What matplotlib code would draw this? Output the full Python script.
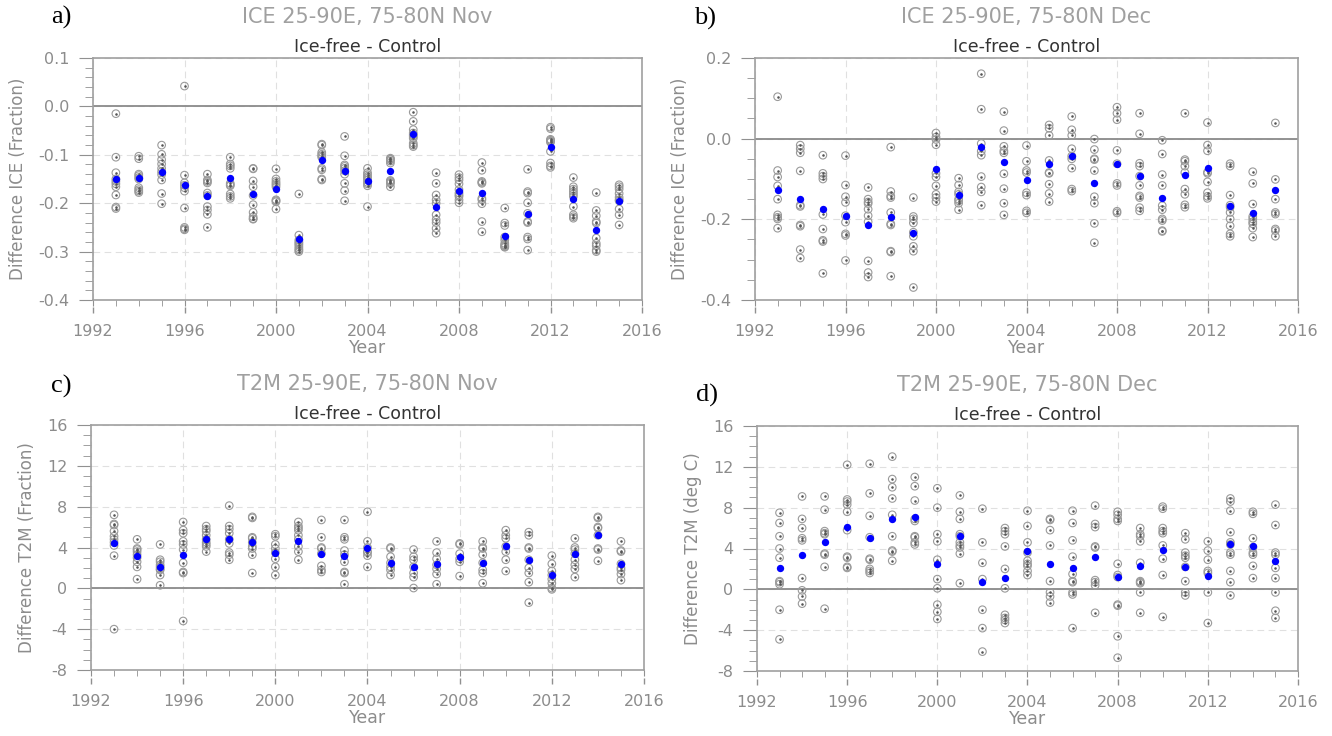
import matplotlib
matplotlib.use("Agg")
import matplotlib.pyplot as plt
import matplotlib.ticker as mticker

years = list(range(1993, 2016))
label_years = [1992, 1996, 2000, 2004, 2008, 2012, 2016]

# --- a) ICE Nov: ensemble members per year, and the ensemble mean
ice_nov = [
    [-0.015, -0.105, -0.137, -0.150, -0.155, -0.160, -0.166, -0.183, -0.208, -0.211],
    [-0.103, -0.108, -0.140, -0.143, -0.147, -0.150, -0.168, -0.172, -0.175, -0.178],
    [-0.080, -0.099, -0.110, -0.119, -0.128, -0.135, -0.141, -0.152, -0.180, -0.201],
    [0.042, -0.142, -0.158, -0.163, -0.168, -0.175, -0.210, -0.250, -0.253, -0.255],
    [-0.140, -0.152, -0.155, -0.158, -0.179, -0.184, -0.207, -0.214, -0.223, -0.250],
    [-0.105, -0.119, -0.123, -0.128, -0.159, -0.162, -0.164, -0.181, -0.186, -0.190],
    [-0.128, -0.129, -0.154, -0.166, -0.184, -0.203, -0.219, -0.228, -0.232, -0.233],
    [-0.129, -0.150, -0.155, -0.159, -0.162, -0.166, -0.193, -0.195, -0.197, -0.212],
    [-0.181, -0.266, -0.276, -0.280, -0.283, -0.286, -0.290, -0.294, -0.297, -0.300],
    [-0.078, -0.080, -0.095, -0.099, -0.102, -0.105, -0.128, -0.131, -0.150, -0.152],
    [-0.062, -0.102, -0.121, -0.124, -0.128, -0.133, -0.140, -0.159, -0.174, -0.195],
    [-0.128, -0.137, -0.141, -0.145, -0.148, -0.152, -0.157, -0.160, -0.164, -0.207],
    [-0.107, -0.109, -0.110, -0.113, -0.117, -0.153, -0.155, -0.157, -0.159, -0.166],
    [-0.012, -0.031, -0.048, -0.055, -0.059, -0.062, -0.066, -0.076, -0.080, -0.083],
    [-0.137, -0.159, -0.183, -0.193, -0.200, -0.224, -0.234, -0.240, -0.252, -0.262],
    [-0.141, -0.147, -0.152, -0.160, -0.172, -0.179, -0.183, -0.186, -0.193, -0.199],
    [-0.116, -0.132, -0.155, -0.157, -0.159, -0.190, -0.193, -0.201, -0.238, -0.259],
    [-0.210, -0.241, -0.246, -0.270, -0.276, -0.283, -0.286, -0.288, -0.290, -0.291],
    [-0.130, -0.176, -0.179, -0.199, -0.221, -0.238, -0.240, -0.270, -0.274, -0.297],
    [-0.043, -0.046, -0.068, -0.070, -0.072, -0.074, -0.093, -0.117, -0.123, -0.126],
    [-0.147, -0.166, -0.171, -0.176, -0.181, -0.186, -0.207, -0.224, -0.228, -0.231],
    [-0.178, -0.215, -0.226, -0.238, -0.241, -0.272, -0.283, -0.288, -0.297, -0.300],
    [-0.162, -0.166, -0.171, -0.180, -0.188, -0.193, -0.195, -0.212, -0.224, -0.245],
]
ice_nov_mean = [-0.150, -0.148, -0.136, -0.163, -0.186, -0.147, -0.182, -0.170, -0.274,
                -0.110, -0.133, -0.155, -0.134, -0.057, -0.208, -0.174, -0.179, -0.267,
                -0.222, -0.083, -0.191, -0.255, -0.196]

# --- b) ICE Dec
ice_dec = [
    [0.104, -0.079, -0.095, -0.117, -0.150, -0.189, -0.195, -0.199, -0.222],
    [-0.016, -0.025, -0.035, -0.080, -0.165, -0.168, -0.214, -0.217, -0.275, -0.296],
    [-0.041, -0.086, -0.093, -0.100, -0.188, -0.224, -0.252, -0.255, -0.334],
    [-0.042, -0.115, -0.144, -0.158, -0.191, -0.207, -0.236, -0.240, -0.302],
    [-0.121, -0.150, -0.157, -0.161, -0.175, -0.191, -0.206, -0.303, -0.332, -0.343],
    [-0.021, -0.131, -0.142, -0.146, -0.183, -0.211, -0.214, -0.279, -0.281, -0.341],
    [-0.146, -0.193, -0.199, -0.209, -0.232, -0.242, -0.267, -0.279, -0.369],
    [0.014, 0.004, -0.002, -0.015, -0.086, -0.095, -0.117, -0.138, -0.146, -0.156],
    [-0.098, -0.115, -0.132, -0.138, -0.150, -0.154, -0.160, -0.176],
    [0.161, 0.073, -0.012, -0.031, -0.041, -0.094, -0.120, -0.132, -0.165],
    [0.067, 0.020, -0.019, -0.030, -0.035, -0.087, -0.124, -0.160, -0.189],
    [-0.017, -0.056, -0.079, -0.084, -0.134, -0.140, -0.179, -0.184],
    [0.034, 0.026, 0.008, -0.054, -0.084, -0.086, -0.113, -0.136, -0.156],
    [0.055, 0.022, 0.008, -0.025, -0.043, -0.050, -0.073, -0.125, -0.130],
    [-0.001, -0.027, -0.050, -0.052, -0.079, -0.144, -0.160, -0.210, -0.258],
    [0.078, 0.063, 0.047, -0.029, -0.062, -0.111, -0.116, -0.180, -0.184],
    [0.063, 0.012, -0.061, -0.068, -0.093, -0.116, -0.142, -0.146, -0.171, -0.179],
    [-0.004, -0.038, -0.089, -0.116, -0.166, -0.176, -0.199, -0.203, -0.228, -0.230],
    [0.063, -0.052, -0.056, -0.068, -0.084, -0.125, -0.138, -0.164, -0.170],
    [0.040, -0.016, -0.030, -0.083, -0.086, -0.107, -0.134, -0.143, -0.148],
    [-0.062, -0.068, -0.140, -0.165, -0.170, -0.183, -0.199, -0.216, -0.236, -0.242],
    [-0.082, -0.111, -0.162, -0.193, -0.199, -0.206, -0.211, -0.222, -0.244],
    [0.039, -0.101, -0.150, -0.183, -0.187, -0.224, -0.228, -0.242],
]
ice_dec_mean = [-0.127, -0.150, -0.175, -0.191, -0.214, -0.195, -0.234, -0.074, -0.140,
                -0.020, -0.057, -0.103, -0.063, -0.042, -0.110, -0.062, -0.093, -0.146,
                -0.089, -0.073, -0.168, -0.184, -0.127]

# --- c) T2M Nov
t2m_nov = [
    [7.2, 6.3, 6.2, 5.6, 5.1, 4.8, 4.5, 4.2, 3.2, -4.0],
    [4.8, 3.9, 3.8, 3.6, 3.3, 3.0, 2.6, 2.1, 0.9],
    [4.3, 2.8, 2.6, 2.3, 2.1, 1.9, 1.8, 1.3, 0.3],
    [6.5, 5.7, 5.4, 4.6, 4.3, 3.8, 2.5, 1.6, 1.5, -3.2],
    [6.1, 5.8, 5.6, 5.2, 4.8, 4.5, 4.3, 4.1, 3.6],
    [8.1, 6.1, 5.8, 5.4, 4.8, 4.4, 3.5, 3.3, 2.8],
    [7.0, 6.9, 5.0, 4.9, 4.5, 4.1, 3.9, 3.3, 1.5],
    [5.3, 5.1, 4.3, 3.9, 3.5, 2.9, 2.1, 1.3],
    [6.5, 6.1, 5.9, 5.7, 5.2, 4.8, 4.1, 3.6, 2.8],
    [6.7, 5.0, 4.0, 3.9, 3.4, 2.2, 1.8, 1.6],
    [6.7, 5.0, 4.8, 3.7, 3.3, 2.6, 1.6, 1.5, 0.4],
    [7.5, 4.6, 4.0, 3.6, 3.5, 3.2, 2.1],
    [4.0, 3.9, 3.1, 2.5, 2.1, 1.8, 1.3],
    [3.8, 3.1, 2.8, 2.1, 1.5, 1.1, 0.03],
    [4.6, 3.5, 2.9, 2.3, 1.9, 1.4, 0.4],
    [4.4, 4.3, 3.4, 2.9, 2.6, 1.2],
    [4.6, 4.0, 3.9, 3.3, 2.5, 1.8, 1.5, 0.5],
    [5.7, 5.2, 4.9, 4.1, 3.6, 2.8, 1.7],
    [5.5, 5.2, 4.0, 3.9, 2.8, 2.0, 1.5, 0.6, -1.4],
    [3.2, 2.4, 1.7, 1.3, 0.9, 0.5, 0.03, -0.1],
    [4.9, 4.0, 3.8, 3.4, 2.8, 2.3, 1.9, 1.1],
    [7.0, 6.9, 6.0, 5.9, 5.2, 3.9, 3.8, 2.7],
    [4.6, 3.7, 3.6, 2.4, 2.0, 1.8, 1.4, 0.8],
]
t2m_nov_mean = [4.4, 3.2, 2.1, 3.3, 4.8, 4.8, 4.5, 3.5, 4.6, 3.4, 3.2, 4.0, 2.5, 2.1,
                2.4, 3.1, 2.5, 4.1, 2.8, 1.3, 3.4, 5.2, 2.4]

# --- d) T2M Dec
t2m_dec = [
    [7.5, 6.5, 5.2, 4.0, 3.1, 0.8, 0.7, 0.5, -2.0, -4.9],
    [9.1, 6.9, 6.0, 5.0, 4.8, 1.1, -0.1, -0.7, -1.4],
    [9.1, 7.8, 5.7, 5.5, 5.4, 3.5, 3.4, 2.2, -1.9],
    [12.2, 8.8, 8.6, 8.3, 7.6, 5.8, 3.2, 3.1, 2.2, 2.1],
    [12.3, 9.4, 7.2, 5.1, 3.0, 2.9, 2.0, 1.8, 1.6],
    [13.0, 10.8, 10.0, 8.9, 7.3, 5.2, 3.8, 3.7, 2.8],
    [11.0, 10.1, 8.7, 6.9, 6.7, 5.2, 5.1, 4.6, 4.4],
    [9.9, 8.0, 5.4, 4.7, 2.9, 1.0, 0.1, -1.5, -2.2, -2.9],
    [9.2, 7.6, 6.9, 5.4, 5.2, 4.6, 4.3, 4.1, 3.5, 0.6],
    [7.9, 4.6, 2.6, 1.0, -2.0, -3.8, -6.1],
    [6.0, 5.7, 5.4, 4.2, 2.0, 0.1, -2.5, -2.8, -3.0, -3.3],
    [7.7, 6.2, 4.6, 3.6, 2.8, 2.5, 2.3, 1.8, 1.4],
    [6.9, 6.8, 5.8, 4.3, 0.8, -0.3, -0.7, -1.3],
    [7.7, 6.5, 4.8, 3.2, 1.5, 0.8, 0.7, -0.3, -0.5, -3.8],
    [8.2, 6.4, 6.1, 4.2, 4.1, 0.9, 0.7, 0.4, -2.3],
    [7.6, 7.3, 6.9, 6.7, 2.5, 1.4, 1.2, -1.5, -1.6, -4.6, -6.7],
    [6.0, 5.4, 5.2, 4.7, 2.6, 0.8, 0.7, 0.6, -0.3, -2.3],
    [8.1, 7.9, 6.0, 5.7, 5.5, 4.3, 3.0, 1.4, -2.7],
    [5.5, 4.9, 3.6, 3.3, 3.1, 2.2, 0.8, -0.3, -0.6],
    [4.7, 3.8, 2.9, 1.8, 1.6, -0.3, -3.3],
    [8.9, 8.6, 7.7, 5.6, 4.6, 4.4, 3.6, 3.4, 1.8, 0.7, -0.6],
    [7.6, 7.4, 5.0, 4.1, 3.6, 3.4, 2.3, 1.1],
    [8.3, 6.3, 3.6, 3.4, 2.1, 1.1, -0.3, -2.1, -2.8],
]
t2m_dec_mean = [2.1, 3.4, 4.6, 6.1, 5.0, 6.9, 7.1, 2.5, 5.2, 0.7, 1.1, 3.8, 2.5, 2.1,
                3.2, 1.2, 2.3, 3.9, 2.2, 1.3, 4.4, 4.2, 2.8]

W, H = 1332, 736
fig = plt.figure(figsize=(W / 100, H / 100), dpi=100)

circ_grey = "#9a9a9a"
text_grey = "#8c8c8c"
tick_grey = "#909090"


def px_rect(left, top, right, bottom):
    return [left / W, 1 - bottom / H, (right - left) / W, (bottom - top) / H]


def draw_panel(box, members, means, ylim, major, minor, fmt, title, ylabel, letter, letter_pos):
    left, top, right, bottom = box
    ax = fig.add_axes(px_rect(*box))
    for yr, vals in zip(years, members):
        ax.scatter([yr] * len(vals), vals, s=30, facecolors="none",
                   edgecolors=circ_grey, linewidths=0.8, zorder=3)
        ax.scatter([yr] * len(vals), vals, s=0.7, c="#555555", zorder=3)
    ax.scatter(years, means, s=28, c="#0000ff", zorder=4, linewidths=0)

    ax.set_xlim(label_years[0], label_years[-1])
    ax.set_ylim(*ylim)
    ax.xaxis.set_major_locator(mticker.FixedLocator(label_years))
    ax.xaxis.set_minor_locator(mticker.MultipleLocator(1))
    ax.yaxis.set_major_locator(mticker.MultipleLocator(major))
    ax.yaxis.set_minor_locator(mticker.MultipleLocator(minor))
    ax.yaxis.set_major_formatter(mticker.FormatStrFormatter(fmt))

    ax.grid(True, which="major", color="#e0e0e0", linestyle=(0, (6, 4)), linewidth=0.8)
    ax.axhline(0, color="#8a8a8a", linewidth=1.3, zorder=2)
    for s in ax.spines.values():
        s.set_color("#a0a0a0")
        s.set_linewidth(1.2)

    ax.tick_params(axis="both", which="both", direction="out", color=tick_grey,
                   labelcolor=text_grey, labelsize=11.5, right=False, top=False)
    ax.tick_params(axis="y", which="major", length=10, pad=7)
    ax.tick_params(axis="y", which="minor", length=6)
    # short year ticks on the spine, labels come from the offset axis below
    ax.tick_params(axis="x", which="both", length=4.5, labelbottom=False)

    sec = ax.secondary_xaxis(-7.5 / (bottom - top))
    sec.xaxis.set_major_locator(mticker.FixedLocator(label_years))
    sec.xaxis.set_minor_locator(mticker.NullLocator())
    sec.spines["bottom"].set_visible(False)
    sec.tick_params(axis="x", direction="out", length=4, width=1, color=tick_grey,
                    labelcolor=text_grey, labelsize=11.5, pad=8)
    sec.set_xlabel("Year", color=text_grey, fontsize=12.5, labelpad=0)

    ax.set_ylabel(ylabel, color=text_grey, fontsize=12, labelpad=8)
    ax.set_title("Ice-free - Control", color="#333333", fontsize=12.5, pad=4)

    cx = (left + right) / 2
    fig.text(cx / W, 1 - (top - 41) / H, title,
             ha="center", va="center", color="#a0a0a0", fontsize=15)
    fig.text(letter_pos[0] / W, 1 - letter_pos[1] / H, letter, ha="left", va="center",
             family="Liberation Serif", fontsize=19, color="black")
    return ax


draw_panel((93, 58, 642, 300), ice_nov, ice_nov_mean, (-0.4, 0.1), 0.1, 0.02, "%.1f",
           "ICE 25-90E, 75-80N Nov", "Difference ICE (Fraction)", "a)", (51, 17))
draw_panel((755, 58, 1298, 300), ice_dec, ice_dec_mean, (-0.4, 0.2), 0.2, 0.05, "%.1f",
           "ICE 25-90E, 75-80N Dec", "Difference ICE (Fraction)", "b)", (694, 18))
draw_panel((91, 425, 644, 670), t2m_nov, t2m_nov_mean, (-8, 16), 4, 1, "%d",
           "T2M 25-90E, 75-80N Nov", "Difference T2M (Fraction)", "c)", (51, 386))
draw_panel((757, 426, 1298, 671), t2m_dec, t2m_dec_mean, (-8, 16), 4, 1, "%d",
           "T2M 25-90E, 75-80N Dec", "Difference T2M (deg C)", "d)", (696, 395))

fig.savefig("out.png", dpi=100)
